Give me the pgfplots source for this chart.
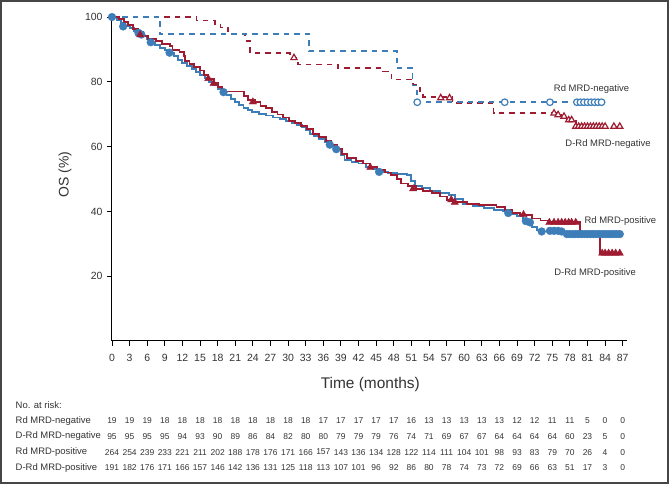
\documentclass[border=0pt]{standalone}
\usepackage{fontspec}
\setmainfont{Liberation Sans}
\usepackage{pgfplots}
\usepackage{pgfplotstable}
\pgfplotsset{compat=1.18}
\definecolor{cblue}{RGB}{62,126,184}
\definecolor{cred}{RGB}{158,27,50}
\definecolor{ctext}{RGB}{51,51,51}
\definecolor{cframe}{RGB}{70,70,70}

\pgfplotstableread{
t rdneg drdneg rdpos drdpos
0 19 95 264 191
3 19 95 254 182
6 19 95 239 176
9 18 95 233 171
12 18 94 221 166
15 18 93 211 157
18 18 90 202 146
21 18 89 188 142
24 18 86 178 136
27 18 84 176 131
30 18 82 171 125
33 18 80 166 118
36 17 80 157 113
39 17 79 143 107
42 17 79 136 101
45 17 79 134 96
48 17 76 128 92
51 16 74 122 86
54 13 71 114 80
57 13 69 111 78
60 13 67 104 74
63 13 67 101 73
66 13 64 98 72
69 12 64 93 69
72 12 64 83 66
75 11 64 79 63
78 11 60 70 51
81 5 23 26 17
84 0 5 4 3
87 0 0 0 0
}\atrisk

\begin{document}
\begin{tikzpicture}
\path[use as bounding box] (-112bp,-143bp) rectangle (557bp,341bp);
\draw[cframe, line width=1.8bp] (-111.1bp,-142.1bp) rectangle (556.1bp,340.1bp);
\begin{axis}[
  at={(0,0)}, anchor=south west,
  scale only axis, width=515.4bp, height=325.6bp,
  xmin=0, xmax=87.8, ymin=0, ymax=100.5,
  axis lines=left, axis line style={black, line width=1bp, -},
  xtick={0,3,...,87}, ytick={20,40,60,80,100},
  tick align=outside, major tick length=5bp,
  tick style={black, line width=0.9bp},
  ticklabel style={font=\fontsize{10.5}{12}\selectfont, text=ctext},
  xticklabel style={yshift=-5bp},
  yticklabel style={xshift=-1bp},
  /pgf/number format/assume math mode=true,
  clip=false,
]
% ---- MRD-negative (dashed)
\addplot[cred, line width=1.7bp, dashed, dash pattern=on 5.5bp off 5bp, const plot] table {
0 100
14.4 98.9
17.5 97.9
18.5 96.8
19.8 94.7
22.7 92.6
23.5 88.9
30.3 87.4
31.7 85.3
38.5 84.2
46.2 83.2
47.6 80.7
51.3 79.1
52.5 77.0
53.0 75.3
58.0 73.4
65.0 70.3
76.5 69.3
77.5 68.2
79.0 66.2
86.6 66.2
};
\addplot[cblue, line width=1.7bp, dashed, dash pattern=on 5.5bp off 5bp, const plot] table {
0 100
8.2 94.7
33.6 89.5
48.5 84.2
51.2 78.9
52.0 73.7
83.7 73.7
};
% ---- MRD-positive (solid)
\addplot[cblue, line width=1.9bp, const plot] table {
0 100
0.8 99.2
1.5 98.1
2.2 97.1
3.0 96.5
3.8 95.8
4.6 95.1
5.3 94.0
5.9 93.2
6.6 92.2
7.4 91.3
8.2 90.5
9.0 89.8
9.8 89.0
10.5 87.9
11.3 86.8
12.0 85.8
12.8 84.9
13.6 83.9
14.3 83.0
15.0 82.2
15.8 81.2
16.5 80.0
17.2 79.0
18.0 77.8
18.8 76.8
19.5 75.8
20.2 74.8
20.9 73.8
21.6 72.8
22.4 72.0
23.2 71.4
23.8 70.6
25.0 70.1
26.2 69.6
27.5 69.0
28.6 68.4
29.6 67.9
30.6 67.3
31.5 66.7
32.3 66.0
33.0 65.0
33.7 64.0
34.4 63.2
35.3 62.4
36.2 61.5
37.1 60.6
38.2 59.2
39.0 57.4
39.6 55.8
40.8 55.3
42.0 54.8
43.2 53.8
44.4 53.0
45.5 52.2
47.0 51.8
48.6 51.5
50.2 51.2
51.0 49.4
51.6 47.8
52.8 47.2
54.2 46.4
55.8 45.7
57.4 45.1
58.4 43.8
59.8 42.2
61.5 41.6
63.3 41.0
65.0 40.5
66.6 40.0
67.8 39.3
69.0 38.5
70.0 37.4
70.8 36.4
71.6 35.1
72.4 34.3
73.2 33.8
77.3 33.3
78.5 33.0
86.5 33.0
};
\addplot[cred, line width=1.9bp, const plot] table {
0 100
1.2 99.5
2.0 98.4
2.8 97.4
3.6 96.3
4.5 95.3
5.3 94.2
6.2 93.2
7.5 92.6
8.5 91.8
9.9 91.0
10.3 89.9
11.5 89.3
12.2 88.0
12.5 86.5
13.2 85.5
14.0 84.5
15.0 83.5
15.7 82.2
16.4 81.0
17.3 79.5
18.0 78.3
18.7 77.0
22.5 75.5
23.2 74.5
24.4 73.8
25.3 72.6
26.2 71.8
27.2 70.8
28.2 69.9
29.2 69.0
30.2 68.0
31.2 67.3
32.2 66.5
33.2 65.3
34.2 64.0
35.2 63.0
36.4 61.8
37.4 60.4
38.4 59.2
39.2 57.6
40.0 56.4
41.5 55.6
42.8 54.8
44.0 53.6
45.2 52.8
46.5 52.0
47.5 51.1
48.5 50.0
49.3 48.6
50.5 47.8
51.8 47.0
53.0 46.2
54.5 45.6
55.8 44.6
57.0 43.6
58.4 42.8
60.4 42.4
62.5 42.0
65.5 41.4
67.0 40.3
68.2 39.6
69.5 39.0
71.5 37.8
73.0 37.2
74.5 36.6
79.8 33.6
83.1 27.1
86.6 27.1
};
% ---- censor marks
\addplot[only marks, mark=*, mark size=3.3bp, mark options={draw=cblue, fill=white, line width=1.2bp, solid}] coordinates {
(52.0,73.7)(66.9,73.7)(74.6,73.7)(79.2,73.7)(79.8,73.7)(80.4,73.7)(81.0,73.7)(81.6,73.7)(82.2,73.7)(82.8,73.7)(83.4,73.7)
};
\addplot[only marks, mark=triangle*, mark size=3.6bp, mark options={draw=cred, fill=white, line width=1.2bp, solid}] coordinates {
(31.0,87.4)(56.0,75.0)(57.5,75.0)(75.3,70.3)(76.0,69.8)(77.0,69.3)(77.8,68.2)(78.3,68.2)
(79.0,66.2)(79.5,66.2)(80.0,66.2)(80.5,66.2)(81.0,66.2)(81.5,66.2)(82.0,66.2)(82.5,66.2)(83.0,66.2)(83.5,66.2)(84.0,66.2)(85.5,66.2)(86.5,66.2)
};
\addplot[only marks, mark=*, mark size=3.9bp, mark options={draw=cblue, fill=cblue}] coordinates {
(0,100)(1.9,97.1)(4.5,95.1)(5.0,94.6)(6.6,92.2)(9.8,89.0)(19.0,76.8)(37.1,60.6)(38.2,59.2)(45.5,52.2)
(67.5,39.5)(70.5,37.0)(71.2,36.6)(73.2,33.8)(74.6,34.0)(75.3,34.0)(76.0,34.0)(76.6,33.8)
(77.5,33.0)(78.0,33.0)(78.5,33.0)(79.0,33.0)(79.5,33.0)(80.0,33.0)(80.5,33.0)(81.0,33.0)(81.5,33.0)(82.0,33.0)
(82.5,33.0)(83.0,33.0)(83.5,33.0)(84.0,33.0)(84.5,33.0)(85.0,33.0)(85.5,33.0)(86.0,33.0)(86.5,33.0)
};
\addplot[only marks, mark=triangle*, mark size=4.2bp, mark options={draw=cred, fill=cred}] coordinates {
(4.8,94.5)(16.4,81.0)(17.3,79.5)(24.0,73.8)(44.0,53.6)(51.3,47.0)(57.8,43.6)(58.4,42.8)(70.1,39.0)
(74.5,36.6)(75.3,36.6)(76.0,36.6)(76.6,36.6)(77.2,36.6)(77.8,36.6)(78.3,36.6)(79.0,36.6)
(83.5,27.1)(84.0,27.1)(84.6,27.1)(85.2,27.1)(85.8,27.1)(86.5,27.1)
};
% ---- curve labels
\node[font=\fontsize{9.5}{11}\selectfont, text=ctext] at (axis cs:81.7,77.9) {Rd MRD-negative};
\node[font=\fontsize{9.5}{11}\selectfont, text=ctext] at (axis cs:84.5,60.9) {D-Rd MRD-negative};
\node[font=\fontsize{9.5}{11}\selectfont, text=ctext] at (axis cs:86.6,36.9) {Rd MRD-positive};
\node[font=\fontsize{9.5}{11}\selectfont, text=ctext] at (axis cs:82.3,20.9) {D-Rd MRD-positive};
% ---- axis labels
\node[font=\fontsize{14}{16}\selectfont, text=ctext, rotate=90] at (axis cs:-8.0,51.3) {OS (\%)};
\node[font=\fontsize{15.5}{18}\selectfont, text=ctext] at (axis cs:44,-13.3) {Time (months)};
% ---- at-risk table
\node[font=\fontsize{9.5}{11}\selectfont, text=ctext, anchor=west] at (axis cs:-17.0,-19.8) {No. at risk:};
\node[font=\fontsize{9.5}{11}\selectfont, text=ctext, anchor=west] at (axis cs:-17.0,-24.6) {Rd MRD-negative};
\node[font=\fontsize{9.5}{11}\selectfont, text=ctext, anchor=west] at (axis cs:-17.0,-29.4) {D-Rd MRD-negative};
\node[font=\fontsize{9.5}{11}\selectfont, text=ctext, anchor=west] at (axis cs:-17.0,-34.3) {Rd MRD-positive};
\node[font=\fontsize{9.5}{11}\selectfont, text=ctext, anchor=west] at (axis cs:-17.0,-39.1) {D-Rd MRD-positive};
\pgfplotsset{atr/.style={draw=none, mark=none, nodes near coords, point meta=explicit symbolic,
  every node near coord/.append style={anchor=center, font=\fontsize{8.5}{10}\selectfont, text=ctext, inner sep=0pt}}}
\addplot[atr] table[x=t, y expr=-24.6, meta=rdneg] {\atrisk};
\addplot[atr] table[x=t, y expr=-29.4, meta=drdneg] {\atrisk};
\addplot[atr] table[x=t, y expr=-34.3, meta=rdpos] {\atrisk};
\addplot[atr] table[x=t, y expr=-39.1, meta=drdpos] {\atrisk};
\end{axis}
\end{tikzpicture}
\end{document}
